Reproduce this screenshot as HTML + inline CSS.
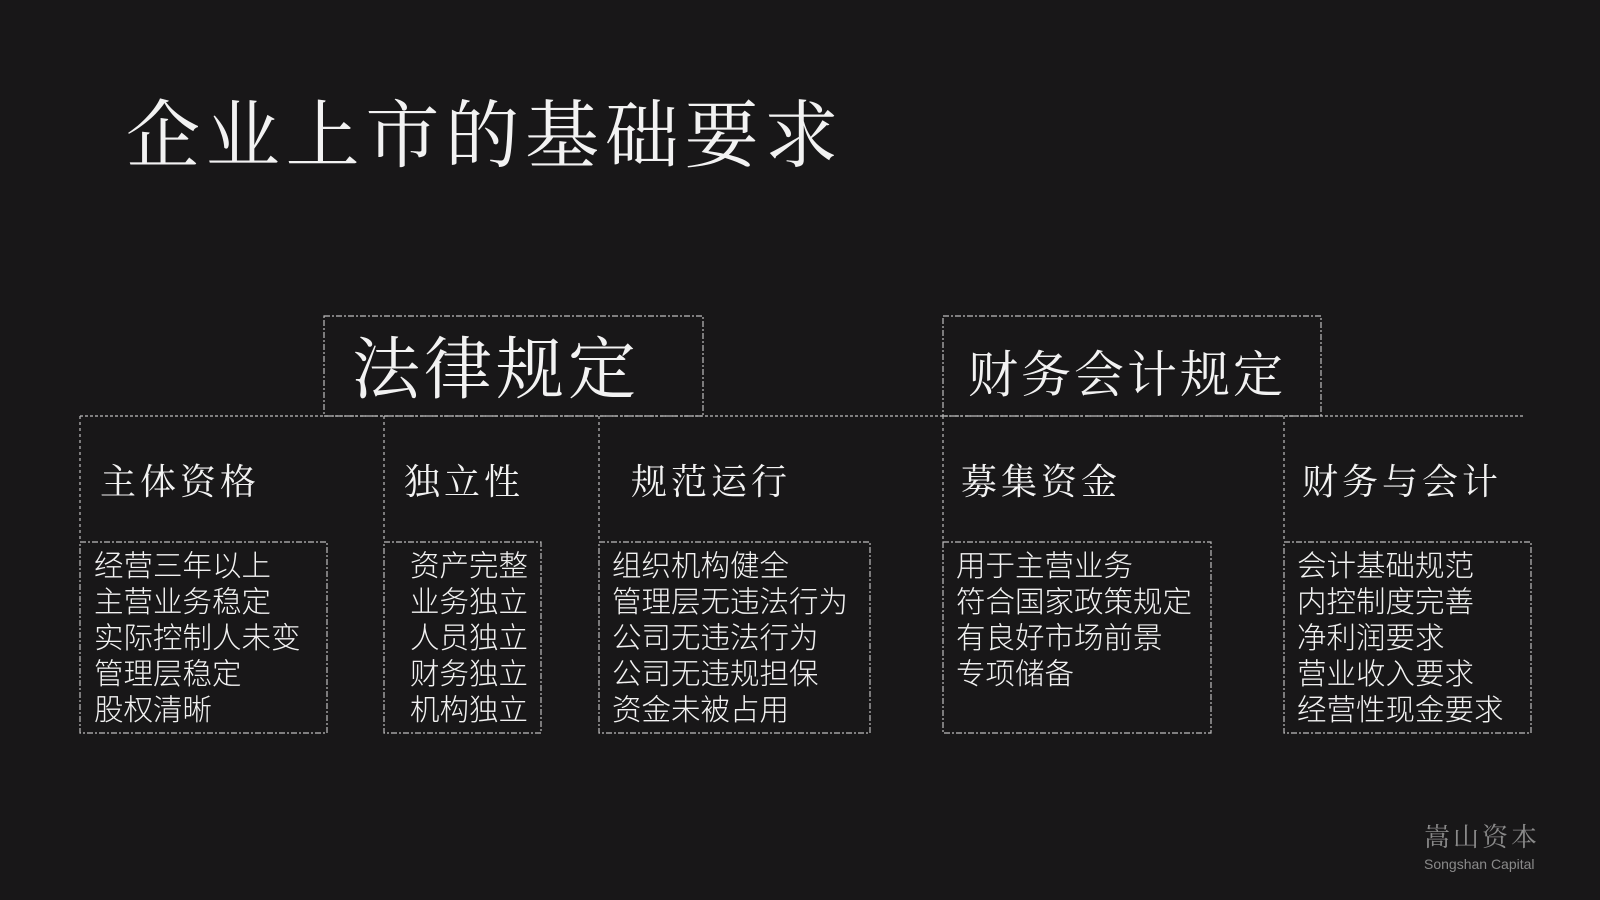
<!DOCTYPE html>
<html><head><meta charset="utf-8"><style>
html,body{margin:0;padding:0}
body{width:1600px;height:900px;background:#181718;position:relative;overflow:hidden;font-family:"Liberation Serif","Noto Serif CJK SC",serif;color:#f2f2f2}
.t{position:absolute;white-space:nowrap;line-height:1}
.l{position:absolute;font-size:29.5px;line-height:36px;white-space:nowrap;font-family:"Liberation Sans","Noto Sans CJK SC",sans-serif;font-weight:300}
svg{position:absolute;left:0;top:0}
</style></head><body>
<svg width="1600" height="900" fill="none" stroke="#bdbdbd" stroke-width="1.2" stroke-dasharray="6 2 2 2">
<rect x="324" y="316" width="379" height="100"/>
<rect x="943" y="316" width="378" height="100"/>
<line x1="80" y1="416" x2="1524" y2="416" stroke-dasharray="3 2"/>
<line x1="80" y1="416" x2="80" y2="542" stroke-dasharray="3 3"/>
<line x1="384" y1="416" x2="384" y2="542" stroke-dasharray="3 3"/>
<line x1="599" y1="416" x2="599" y2="542" stroke-dasharray="3 3"/>
<line x1="943" y1="416" x2="943" y2="542" stroke-dasharray="3 3"/>
<line x1="1284" y1="416" x2="1284" y2="542" stroke-dasharray="3 3"/>
<rect x="80" y="542" width="247" height="191"/>
<rect x="384" y="542" width="157" height="191"/>
<rect x="599" y="542" width="271" height="191"/>
<rect x="943" y="542" width="268" height="191"/>
<rect x="1284" y="542" width="247" height="191"/>
</svg>
<div class="t" style="left:126px;top:100px;font-size:74px;letter-spacing:5.8px">企业上市的基础要求</div>
<div class="t" style="left:352px;top:336px;font-size:68px;letter-spacing:4px">法律规定</div>
<div class="t" style="left:968px;top:350px;font-size:50px;letter-spacing:3px">财务会计规定</div>
<div class="t" style="left:100px;top:464px;font-size:36px;letter-spacing:4px">主体资格</div>
<div class="t" style="left:404px;top:464px;font-size:36px;letter-spacing:4px">独立性</div>
<div class="t" style="left:631px;top:464px;font-size:36px;letter-spacing:4px">规范运行</div>
<div class="t" style="left:961px;top:464px;font-size:36px;letter-spacing:4px">募集资金</div>
<div class="t" style="left:1302px;top:464px;font-size:36px;letter-spacing:4px">财务与会计</div>
<div class="l" style="left:94px;top:549px">经营三年以上<br>主营业务稳定<br>实际控制人未变<br>管理层稳定<br>股权清晰</div>
<div class="l" style="left:410px;top:549px">资产完整<br>业务独立<br>人员独立<br>财务独立<br>机构独立</div>
<div class="l" style="left:612px;top:549px">组织机构健全<br>管理层无违法行为<br>公司无违法行为<br>公司无违规担保<br>资金未被占用</div>
<div class="l" style="left:956px;top:549px">用于主营业务<br>符合国家政策规定<br>有良好市场前景<br>专项储备</div>
<div class="l" style="left:1297px;top:549px">会计基础规范<br>内控制度完善<br>净利润要求<br>营业收入要求<br>经营性现金要求</div>
<div class="t" style="left:1424px;top:825px;font-size:26px;letter-spacing:3px;color:#8a8a8a">嵩山资本</div>
<div class="t" style="left:1424px;top:857px;font-size:14px;color:#8a8a8a;font-family:'Liberation Sans',sans-serif">Songshan Capital</div>
</body></html>
